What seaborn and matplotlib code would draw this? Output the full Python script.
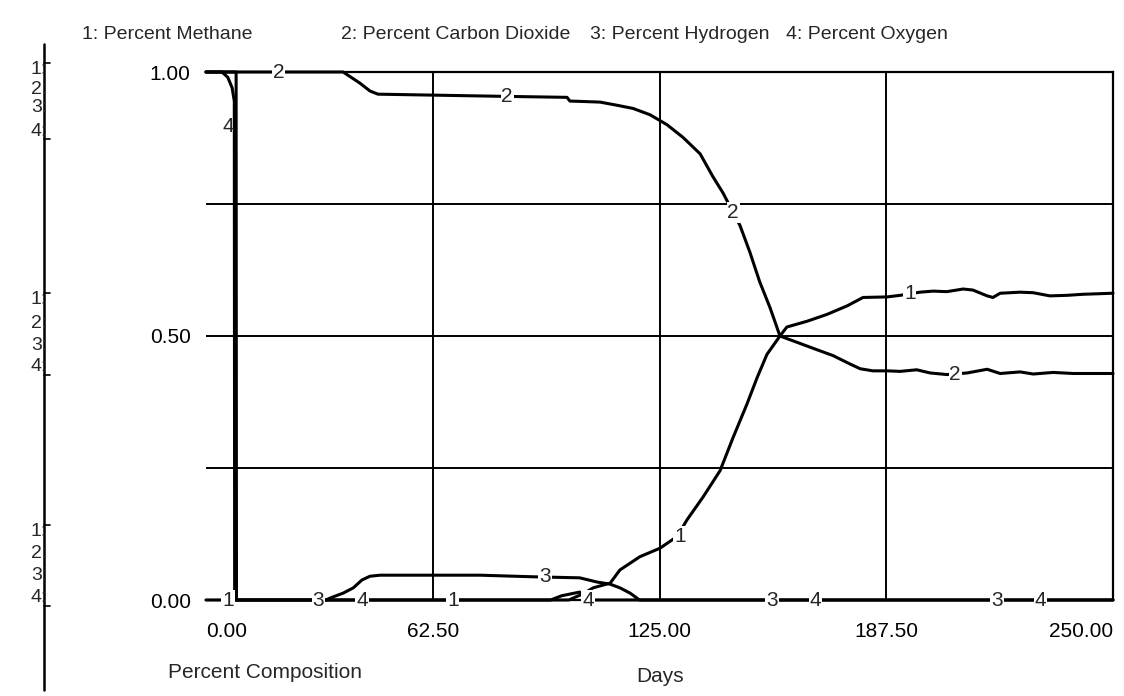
import matplotlib
matplotlib.use("Agg")
import matplotlib.pyplot as plt
from matplotlib.lines import Line2D
import pandas as pd
import seaborn as sns

# ---- data (percent composition vs days) ----
methane_days = [0, 8.3, 8.4, 100, 104, 106.7, 111.4, 114.1, 119.6, 125.1, 129.8, 132.6,
                137, 141.7, 145.3, 149.1, 151.9, 154.6, 158.2, 160.1, 165.7, 171.2,
                176.7, 181.1, 187.7, 191.3, 196.8, 200.4, 204.2, 208.7, 211.4, 215.3,
                216.9, 218.9, 224.4, 228, 232.6, 237.3, 241.7, 250]
methane_pct = [1.0, 1.0, 0.0, 0.0, 0.012, 0.023, 0.032, 0.057, 0.082, 0.098, 0.12, 0.152,
               0.195, 0.245, 0.308, 0.371, 0.421, 0.465, 0.5, 0.517, 0.528, 0.541,
               0.557, 0.573, 0.574, 0.577, 0.583, 0.585, 0.584, 0.589, 0.587, 0.576,
               0.573, 0.581, 0.583, 0.582, 0.576, 0.577, 0.579, 0.581]

co2_days = [0, 37.8, 42.4, 45.2, 47.4, 81, 99.5, 100.3, 108.6, 113.3, 117.7, 122.4,
            127.1, 131.5, 136.2, 139.7, 142.5, 145.3, 147.2, 149.9, 152.6, 155.5,
            158.2, 163.7, 168.4, 172.8, 177.5, 180.3, 183.8, 187.7, 191.3, 195.9,
            199.6, 204.2, 209.8, 215.3, 218.9, 224.4, 228, 233.5, 239, 250]
co2_pct = [1.0, 1.0, 0.979, 0.964, 0.958, 0.954, 0.952, 0.945, 0.943, 0.937, 0.931, 0.919,
           0.900, 0.876, 0.845, 0.802, 0.771, 0.734, 0.709, 0.659, 0.603, 0.553,
           0.5, 0.486, 0.474, 0.463, 0.447, 0.438, 0.434, 0.434, 0.433, 0.436,
           0.430, 0.427, 0.430, 0.437, 0.429, 0.432, 0.428, 0.431, 0.429, 0.429]

h2_days = [0, 33, 34.7, 37.8, 40.6, 43, 45.2, 48, 75.5, 90, 103, 107.8, 111.4, 114.1,
           116.9, 119.5, 250]
h2_pct = [0, 0, 0.005, 0.013, 0.023, 0.038, 0.045, 0.047, 0.047, 0.044, 0.042, 0.034,
          0.030, 0.023, 0.013, 0.0, 0.0]

o2_days = [0, 4.4, 6.0, 7.2, 7.8, 7.9, 95, 98, 103, 104.5, 250]
o2_pct = [1.0, 1.0, 0.99, 0.97, 0.945, 0.0, 0.0, 0.008, 0.015, 0.0, 0.0]

legend_names = ["1: Percent Methane", "2: Percent Carbon Dioxide",
                "3: Percent Hydrogen", "4: Percent Oxygen"]
x_ticks = [0, 62.5, 125, 187.5, 250]
x_ticklabels = ["0.00", "62.50", "125.00", "187.50", "250.00"]
y_ticks = [0, 0.25, 0.5, 0.75, 1.0]
y_ticklabels = ["0.00", "", "0.50", "", "1.00"]

# number markers STELLA puts on the curves: (label, day, value)
curve_marks = [("1", 6.1, 0.0), ("1", 68, 0.0), ("1", 130.6, 0.12), ("1", 194, 0.58),
               ("2", 20, 1.0), ("2", 83, 0.954), ("2", 145.3, 0.734), ("2", 206.5, 0.427),
               ("3", 31, 0.0), ("3", 93.4, 0.045), ("3", 156, 0.0), ("3", 218, 0.0),
               ("4", 43, 0.0), ("4", 105.3, 0.0), ("4", 168, 0.0), ("4", 230, 0.0)]

sns.set_style("white")
plt.rcParams['font.family'] = ['Liberation Sans', 'DejaVu Sans']

W, H = 1124, 696
fig = plt.figure(figsize=(W / 100, H / 100), dpi=100)
fig.patch.set_facecolor("white")
ax = fig.add_axes([206 / W, 1 - 600 / H, 907 / W, 528 / H])

series = [(methane_days, methane_pct), (co2_days, co2_pct),
          (h2_days, h2_pct), (o2_days, o2_pct)]
for days, vals in series:
    df = pd.DataFrame({"Days": days, "Pct": vals})
    sns.lineplot(data=df, x="Days", y="Pct", ax=ax, color="black", lw=2.2,
                 sort=False, estimator=None, clip_on=False, zorder=3)

for lab, d, v in curve_marks:
    ax.text(d, v, lab, ha="center", va="center", fontsize=15, zorder=5,
            bbox=dict(facecolor="white", edgecolor="none", pad=0.6))
ax.text(6.1, 0.896, "4", ha="center", va="center", fontsize=15, zorder=5)

ax.set_xlim(0, 250)
ax.set_ylim(0, 1)
ax.set_xticks(x_ticks)
ax.set_xticklabels(x_ticklabels, fontsize=15)
ax.set_yticks(y_ticks)
ax.set_yticklabels(y_ticklabels, fontsize=15)
ax.set_xlabel("")
ax.set_ylabel("")
ax.grid(True, color="black", lw=1.4)
ax.xaxis.get_gridlines()[0].set_visible(False)
ax.xaxis.get_gridlines()[-1].set_visible(False)
ax.yaxis.get_gridlines()[0].set_visible(False)
ax.yaxis.get_gridlines()[-1].set_visible(False)

ax.spines["left"].set_visible(False)
for s in ["top", "right", "bottom"]:
    ax.spines[s].set_color("black")
    ax.spines[s].set_linewidth(1.6)

ax.tick_params(axis="y", direction="inout", length=20, width=3, pad=1, colors="black")
ax.tick_params(axis="x", direction="out", length=18, width=3, pad=-2, colors="black")
xl = ax.get_xticklabels()
xl[0].set_ha("left")
xl[-1].set_ha("right")

# legend row
for name, xpx in zip(legend_names, [82, 341, 590, 786]):
    fig.text(xpx / W, 1 - 39 / H, name, ha="left", va="baseline", fontsize=14)

fig.text(265 / W, 1 - 672 / H, "Percent Composition", ha="center", va="center", fontsize=15)
fig.text(660 / W, 1 - 677 / H, "Days", ha="center", va="center", fontsize=15)

# STELLA left scale strip
fig.add_artist(Line2D([44 / W, 44 / W], [1 - 44 / H, 1 - 690 / H],
                      transform=fig.transFigure, color="black", lw=1.8))
for ys in ([70, 89, 108, 131], [300, 323, 345, 367], [532, 553, 575, 598]):
    for k, ypx in enumerate(ys):
        fig.text(47 / W, 1 - ypx / H, f"{k + 1}:", ha="right", va="center", fontsize=14)
    for ypx in (ys[0] - 7, ys[-1] + 8):
        fig.add_artist(Line2D([44 / W, 50 / W], [1 - ypx / H] * 2,
                              transform=fig.transFigure, color="black", lw=1.2))

fig.savefig("out.png", dpi=100)
